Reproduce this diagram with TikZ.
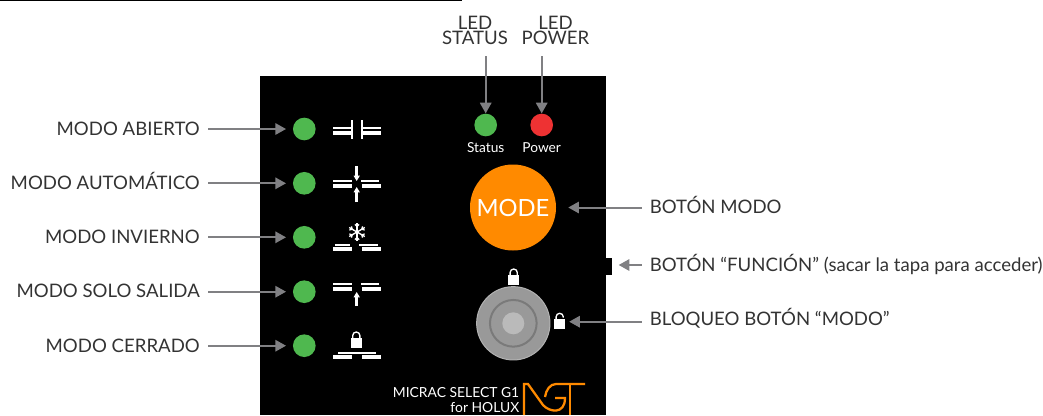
\documentclass[tikz,border=0pt]{standalone}
\usepackage{fontspec}
\setmainfont{Lato}
\usetikzlibrary{calc, arrows.meta}
\definecolor{ledgreen}{HTML}{4FB84F}
\definecolor{ledred}{HTML}{EE3233}
\definecolor{modeorange}{HTML}{FF8A00}
\definecolor{arrowgray}{HTML}{808083}
\definecolor{labelgray}{HTML}{333333}
\tikzset{
  led/.style={circle, inner sep=0pt, minimum size=17pt, fill=#1},
  lbl/.style={text=labelgray, font=\fontsize{13.95}{14}\selectfont, inner sep=0pt},
  callout/.style={draw=arrowgray, line width=1.5pt, -{Triangle[length=8pt,width=8.5pt]}, shorten >=5pt},
  plate/.style={fill=white},
}
% two pairs of contact plates, thin bars given by their inner ends
\newcommand{\plates}[5]{%
  \fill[plate] (#3,#1) rectangle (#4,#1+2);
  \fill[plate] (#4+9,#1) rectangle (#5,#1+2);
  \fill[plate] (333,#2) rectangle (352,#2+4);
  \fill[plate] (362,#2) rectangle (381,#2+4);
}
\newcommand{\padlock}[3]{%
  \fill[white] (#1-5.7,#2) rectangle (#1+5.7,#2+10);
  \draw[white, line width=1pt] (#1-3.6,#2) -- ++(0,-2.4) arc[start angle=-180, end angle=0, radius=3.6] -- ++(0,#3);
}
\begin{document}
\begin{tikzpicture}[x=0.75pt, y=-0.75pt]
  \useasboundingbox (0,0) rectangle (1043,415);
  % panel %
  \fill[black] (260,76) rectangle (606,415);
  \fill[black] (606,258) rectangle (612,275);
  \draw[black, line width=1pt] (0,0.6) -- (462,0.6);

  % leds %
  \node[led=ledgreen] (abierto) at (304.3,129) {};
  \node[led=ledgreen] (auto) at (304.3,183.3) {};
  \node[led=ledgreen] (invierno) at (304.3,237.3) {};
  \node[led=ledgreen] (salida) at (304.3,291.7) {};
  \node[led=ledgreen] (cerrado) at (304.3,345.7) {};
  \node[led=ledgreen] (status) at (485.7,125) {};
  \node[led=ledred] (power) at (541.7,125) {};
  \node[text=white, font=\fontsize{10.3}{10.3}\selectfont] (statustxt) at (485.7,148) {Status};
  \node[text=white, font=\fontsize{10.3}{10.3}\selectfont] (powertxt) at (541.7,148) {Power};

  % mode button and knob %
  \node[circle, inner sep=0pt, minimum size=64.5pt, fill=modeorange, text=white, font=\fontsize{17.8}{17.8}\selectfont] (mode) at (513,207.5) {MODE};
  \node[circle, inner sep=0pt, minimum size=55pt, fill=black!40, draw=black!30, line width=0.75pt] (knob) at (513.3,323.3) {};
  \node[circle, inner sep=0pt, minimum size=35pt, draw=black!52, line width=1.5pt] (ring) at (513.3,323.3) {};
  \node[circle, inner sep=0pt, minimum size=16.5pt, fill=black!27] (cap) at (513.3,323.3) {};
  \padlock{513.7}{275}{2.4}
  \padlock{559.7}{319.3}{0.6}
  \coordinate (unlock) at (562.5,321.7);

  % icons %
  \plates{127.3}{131}{333}{352}{381}
  \fill[plate] (351,120) rectangle (353,139);
  \fill[plate] (360.7,120) rectangle (362.7,139);
  \plates{180}{184}{333}{352}{379}
  \draw[white, line width=2.2pt, -{Triangle[length=4pt,width=4.5pt]}] (356.7,166) -- (356.7,181);
  \draw[white, line width=2.2pt, -{Triangle[length=4pt,width=4.5pt]}] (356.7,202) -- (356.7,187);
  \plates{244}{247}{335}{350}{378}
  \foreach \a in {30,90,150,210,270,330}{
    \draw[white, line width=1pt] (357,232) -- ++(\a:9);
    \draw[white, line width=0.9pt] ($(357,232)+(\a:5.5)$) -- ++(\a+45:3);
    \draw[white, line width=0.9pt] ($(357,232)+(\a:5.5)$) -- ++(\a-45:3);
  }
  \plates{283}{287}{333}{352}{379}
  \draw[white, line width=2.2pt, -{Triangle[length=4pt,width=4.5pt]}] (356.7,306) -- (356.7,292);
  \fill[plate] (338,352) rectangle (376,354);
  \fill[plate] (333,355) rectangle (352,359);
  \fill[plate] (362,355) rectangle (381,359);
  \padlock{356.3}{338}{2.4}

  % logo %
  \node[text=white, anchor=east, align=right, font=\fontsize{10.4}{11.8}\selectfont, inner sep=0pt] (logotxt) at (519.5,400) {MICRAC SELECT G1\\for HOLUX};
  \draw[modeorange, line width=1.7pt] (524,415) -- (524,384) -- (528,384) -- (543,405) .. controls (549,412) and (565,415) .. (565,398) -- (555,398);
  \draw[modeorange, line width=1.7pt] (585,384) -- (556,384) .. controls (550,384) and (546,390) .. (545,397);
  \draw[modeorange, line width=1.7pt] (570,384) -- (570,415);

  % labels %
  \node[lbl, anchor=east] (labierto) at (200,129) {MODO ABIERTO};
  \node[lbl, anchor=east] (lauto) at (200,180.5) {MODO AUTOMÁTICO};
  \node[lbl, anchor=east] (linvierno) at (200,237) {MODO INVIERNO};
  \node[lbl, anchor=east] (lsalida) at (200,291) {MODO SOLO SALIDA};
  \node[lbl, anchor=east] (lcerrado) at (200,345.5) {MODO CERRADO};
  \node[lbl, align=center, font=\fontsize{13.95}{11.8}\selectfont] (lstatus) at (475,30.5) {LED\\STATUS};
  \node[lbl, align=center, font=\fontsize{13.95}{11.8}\selectfont] (lpower) at (555.5,30.5) {LED\\POWER};
  \node[lbl, anchor=west] (lmode) at (649.5,204.5) {BOTÓN MODO};
  \node[lbl, anchor=west] (lfuncion) at (649.5,264) {BOTÓN “FUNCIÓN” (sacar la tapa para acceder)};
  \node[lbl, anchor=west] (lbloqueo) at (649.5,318.5) {BLOQUEO BOTÓN “MODO”};
  \coordinate (notch) at (612,265);

  % edges %
  \foreach \a/\b in {labierto/abierto, lauto/auto, linvierno/invierno, lsalida/salida, lcerrado/cerrado}{
    \draw[callout] ($(\a.east |- \b.west)+(8,0)$) -- (\b.west);
  }
  \draw[callout, shorten >=0pt] (485.7,56) -- (status.north);
  \draw[callout, shorten >=0pt] (541.7,56) -- (power.north);
  \draw[callout, shorten >=9pt] ($(lmode.west |- mode.east)+(-8,0)$) -- (mode.east);
  \draw[callout] ($(lfuncion.west |- notch)+(-8,0)$) -- (notch);
  \draw[callout] ($(lbloqueo.west |- unlock)+(-8,0)$) -- (unlock);
\end{tikzpicture}
\end{document}
